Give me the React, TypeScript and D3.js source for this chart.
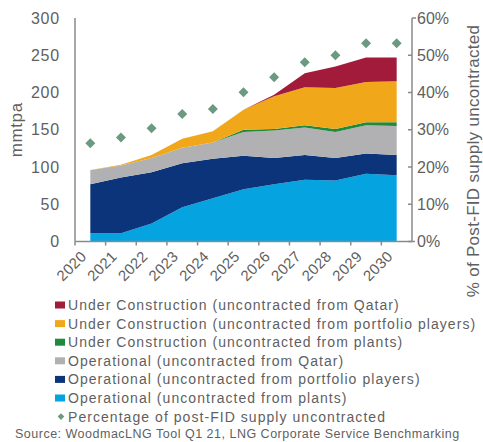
import React from 'react';
import * as d3 from 'd3';

const years = ['2020', '2021', '2022', '2023', '2024', '2025', '2026', '2027', '2028', '2029', '2030'];
const opPlants = [11, 11, 24, 46, 58, 70, 77, 83, 82, 91, 89];
const opPortfolio = [66, 75, 69, 59, 53, 45, 35, 33, 30, 27, 27];
const opQatar = [19, 16, 19, 21, 22, 32, 37, 37, 35, 38, 39];
const ucPlants = [0, 0, 0, 0, 0, 3, 2, 3, 4, 4, 5];
const ucPortfolio = [0, 1, 4, 12, 15, 27, 44, 51, 55, 54, 55];
const ucQatar = [0, 0, 0, 0, 0, 0, 2, 19, 29, 33, 32];
const pctUncontracted = [26.4, 27.9, 30.4, 34.2, 35.6, 40.1, 44.1, 48.1, 50.0, 53.2, 53.2];
const leftTicks = [0, 50, 100, 150, 200, 250, 300];
const rightTicks = [0, 10, 20, 30, 40, 50, 60];

const seriesKeys = ['opPlants', 'opPortfolio', 'opQatar', 'ucPlants', 'ucPortfolio', 'ucQatar'];
const seriesLabels = [
  'Operational (uncontracted from plants)',
  'Operational (uncontracted from portfolio players)',
  'Operational (uncontracted from Qatar)',
  'Under Construction (uncontracted from plants)',
  'Under Construction (uncontracted from portfolio players)',
  'Under Construction (uncontracted from Qatar)',
];
const seriesColors = ['#05a3e0', '#0b347b', '#b1b1b3', '#1f8a3d', '#f0a81a', '#a31b3b'];
const pctLabel = 'Percentage of post-FID supply uncontracted';
const diamondColor = '#6c9a80';

const FONT = '"Liberation Sans", Arial, sans-serif';
const TEXT = '#5f5f5f';
const AXIS = '#8a8a8a';

export default function App() {
  const W = 483, H = 442;
  const x0 = 75, x1 = 412, yTop = 18, yBot = 241.5;

  const rows = years.map((y, i) => ({
    year: y,
    opPlants: opPlants[i],
    opPortfolio: opPortfolio[i],
    opQatar: opQatar[i],
    ucPlants: ucPlants[i],
    ucPortfolio: ucPortfolio[i],
    ucQatar: ucQatar[i],
  }));

  const x = d3.scaleBand<string>().domain(years).range([x0, x1]).padding(0);
  const cx = (yr: string) => (x(yr) as number) + x.bandwidth() / 2;
  const y = d3.scaleLinear().domain([0, 300]).range([yBot, yTop]);
  const y2 = d3.scaleLinear().domain([0, 60]).range([yBot, yTop]);

  const stacked = d3.stack<any>().keys(seriesKeys)(rows);
  const area = d3
    .area<any>()
    .x((d) => cx(d.data.year))
    .y0((d) => y(d[0]))
    .y1((d) => y(d[1]));

  const diamond = d3.symbol().type(d3.symbolSquare).size(50)();
  const diamondSmall = d3.symbol().type(d3.symbolSquare).size(22)();

  const legendItems = [
    ...seriesLabels.map((l, i) => ({ label: l, color: seriesColors[i], kind: 'rect' })).reverse(),
    { label: pctLabel, color: diamondColor, kind: 'diamond' },
  ];

  return (
    <svg width={W} height={H} style={{ position: 'absolute', left: 0, top: 0, background: '#fff' }} fontFamily={FONT}>
      {stacked.map((s, i) => (
        <path key={seriesKeys[i]} d={area(s) as string} fill={seriesColors[i]} />
      ))}
      {pctUncontracted.map((p, i) => (
        <path
          key={'d' + i}
          d={diamond as string}
          transform={`translate(${cx(years[i])},${y2(p)}) rotate(45)`}
          fill={diamondColor}
        />
      ))}

      {/* left axis */}
      <line x1={x0} x2={x0} y1={yTop} y2={yBot} stroke={AXIS} strokeWidth={1.5} />
      {leftTicks.map((t) => (
        <text key={'l' + t} x={60} y={y(t)} dy="0.35em" textAnchor="end" fontSize={16} letterSpacing={0.8} fill={TEXT}>
          {t}
        </text>
      ))}
      <text
        transform={`translate(22,${(yTop + yBot) / 2}) rotate(-90)`}
        textAnchor="middle"
        fontSize={17}
        letterSpacing={0.6}
        fill={TEXT}
      >
        mmtpa
      </text>

      {/* bottom axis */}
      <line x1={x0} x2={x1 + 3} y1={yBot} y2={yBot} stroke={AXIS} strokeWidth={1.5} />
      {years.map((yr) => (
        <line
          key={'bt' + yr}
          x1={x(yr) as number}
          x2={x(yr) as number}
          y1={yBot}
          y2={yBot + 4}
          stroke={AXIS}
          strokeWidth={1.5}
        />
      ))}
      {years.map((yr) => (
        <text
          key={'xl' + yr}
          transform={`translate(${cx(yr) - 3},${yBot + 16}) rotate(-45)`}
          textAnchor="end"
          fontSize={15}
          letterSpacing={0.3}
          fill={TEXT}
        >
          {yr}
        </text>
      ))}

      {/* right axis */}
      <line x1={x1} x2={x1} y1={yTop} y2={yBot} stroke={AXIS} strokeWidth={1.5} />
      {rightTicks.map((t) => (
        <line
          key={'rt' + t}
          x1={t === 60 ? x1 : x1 - 4}
          x2={t === 60 ? x1 + 4 : x1}
          y1={y2(t)}
          y2={y2(t)}
          stroke={AXIS}
          strokeWidth={1.5}
        />
      ))}
      {rightTicks.map((t) => (
        <text key={'r' + t} x={417} y={y2(t)} dy="0.35em" textAnchor="start" fontSize={16} fill={TEXT}>
          {t}%
        </text>
      ))}
      <text
        transform={`translate(479,161) rotate(-90)`}
        textAnchor="middle"
        fontSize={17}
        letterSpacing={0.3}
        fill={TEXT}
      >
        % of Post-FID supply uncontracted
      </text>

      {/* legend */}
      {legendItems.map((it, i) => {
        const ly = 305 + i * 18.6;
        return (
          <g key={'lg' + i} transform={`translate(55,${ly})`}>
            {it.kind === 'rect' ? (
              <rect x={0} y={-3.5} width={10} height={7} fill={it.color} />
            ) : (
              <path d={diamondSmall as string} transform="translate(6,0) rotate(45)" fill={it.color} />
            )}
            <text x={13} y={0} dy="0.35em" fontSize={14} fill={TEXT} letterSpacing={1.05}>
              {it.label}
            </text>
          </g>
        );
      })}
      <text x={15} y={434} dy="0.35em" fontSize={12.5} fill={TEXT} letterSpacing={0.5}>
        Source: WoodmacLNG Tool Q1 21, LNG Corporate Service Benchmarking
      </text>
    </svg>
  );
}
